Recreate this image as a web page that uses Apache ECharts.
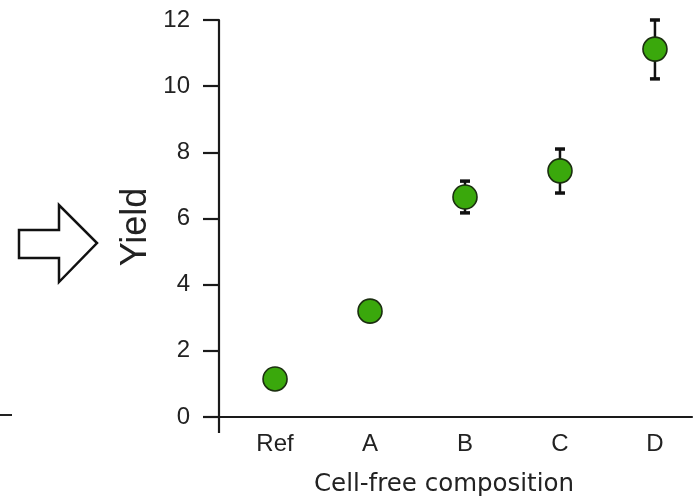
<!DOCTYPE html>
<html>
<head>
<meta charset="utf-8">
<script src="https://cdn.jsdelivr.net/npm/echarts@6/dist/echarts.min.js"></script>
<style>html,body{margin:0;padding:0;background:#fff}#c{width:699px;height:499px}</style>
</head>
<body>
<div id="c"></div>
<script>
var categories = ['Ref', 'A', 'B', 'C', 'D'];
var yieldMean = [1.15, 3.2, 6.65, 7.44, 11.12];
var yieldLow = [1.15, 3.2, 6.17, 6.77, 10.22];
var yieldHigh = [1.15, 3.2, 7.13, 8.10, 12.0];
var yTicks = [0, 2, 4, 6, 8, 10, 12];

var chart = echarts.init(document.getElementById('c'), null, {renderer: 'canvas'});
var pts = categories.map(function (c, i) { return [i, yieldMean[i]]; });
var errs = categories.map(function (c, i) { return [i, yieldLow[i], yieldHigh[i]]; });

var option = {
  animation: false,
  grid: {left: 219, right: 7, top: 20, bottom: 82},
  xAxis: {
    type: 'value', min: -0.59, max: 4.39,
    splitLine: {show: false},
    axisLine: {show: true, onZero: false, lineStyle: {color: '#1a1a1a', width: 2.2}},
    axisTick: {show: true, customValues: [-0.59], length: 16, lineStyle: {color: '#1a1a1a', width: 2.2}},
    axisLabel: {
      customValues: [0, 1, 2, 3, 4],
      formatter: function (v) { return categories[Math.round(v)]; },
      fontFamily: 'Liberation Sans', fontSize: 24, color: '#222', margin: 15
    }
  },
  yAxis: {
    type: 'value', min: 0, max: 12, interval: 2,
    splitLine: {show: false},
    axisLine: {show: true, onZero: false, lineStyle: {color: '#1a1a1a', width: 2.2}},
    axisTick: {show: true, length: 16, lineStyle: {color: '#1a1a1a', width: 2.2}},
    axisLabel: {fontFamily: 'Liberation Sans', fontSize: 24, color: '#222', margin: 29,
      customValues: yTicks}
  },
  graphic: [
    {type: 'text', x: 444, y: 485,
      style: {text: 'Cell-free composition', font: '24.5px "DejaVu Sans"', fill: '#222', align: 'center', verticalAlign: 'middle'}},
    {type: 'text', x: 136, y: 227, rotation: Math.PI / 2, originX: 0, originY: 0,
      style: {text: 'Yield', font: '36px "Liberation Sans"', fill: '#222', align: 'center', verticalAlign: 'middle'}},
    {type: 'polygon', shape: {points: [[19, 230], [59, 230], [59, 205], [97, 243], [59, 282], [59, 258], [19, 258]]},
      style: {fill: '#fff', stroke: '#111', lineWidth: 2.5}},
    {type: 'line', shape: {x1: 0, y1: 415, x2: 12, y2: 415}, style: {stroke: '#222', lineWidth: 2}}
  ],
  series: [
    {
      type: 'custom', data: errs, z: 2,
      renderItem: function (params, api) {
        var lo = api.value(1), hi = api.value(2);
        if (hi - lo < 0.01) return null;
        var p1 = api.coord([api.value(0), hi]);
        var p2 = api.coord([api.value(0), lo]);
        var w = 5;
        return {type: 'group', children: [
          {type: 'line', shape: {x1: p1[0], y1: p1[1], x2: p2[0], y2: p2[1]}, style: {stroke: '#111', lineWidth: 2.5}},
          {type: 'line', shape: {x1: p1[0] - w, y1: p1[1], x2: p1[0] + w, y2: p1[1]}, style: {stroke: '#111', lineWidth: 3.5}},
          {type: 'line', shape: {x1: p2[0] - w, y1: p2[1], x2: p2[0] + w, y2: p2[1]}, style: {stroke: '#111', lineWidth: 3.5}}
        ]};
      }
    },
    {
      type: 'scatter', data: pts, z: 3, symbol: 'circle', symbolSize: 24,
      itemStyle: {color: '#3aa80c', borderColor: '#1b2e10', borderWidth: 1.6, opacity: 1}
    }
  ]
};
chart.setOption(option);
</script>
</body>
</html>
